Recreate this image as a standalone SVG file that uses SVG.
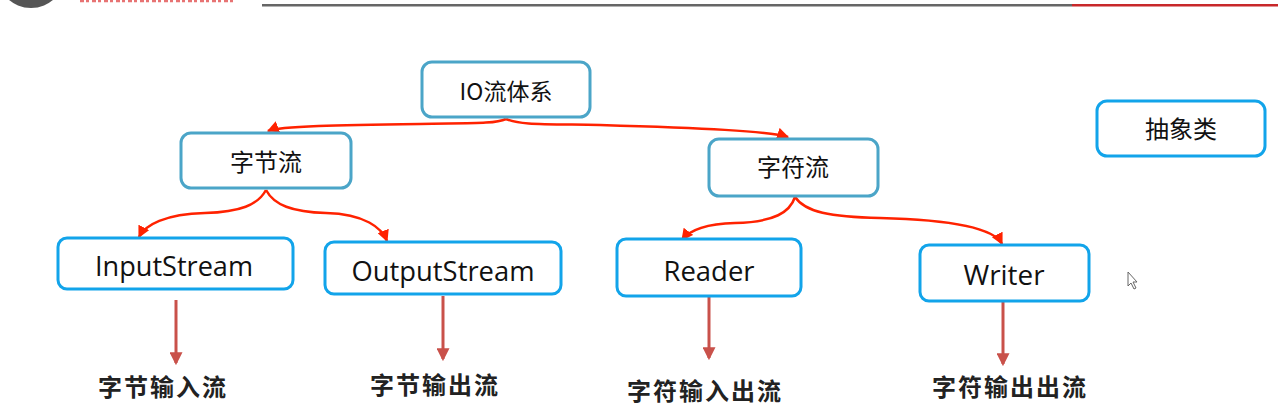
<svg xmlns="http://www.w3.org/2000/svg" width="1278" height="412" viewBox="0 0 1278 412">
<style>
.box1{fill:#fff;stroke:#4BA5C8;stroke-width:3}
.box2{fill:#fff;stroke:#12A4EA;stroke-width:3}
.cjk{font-family:"Noto Sans CJK SC","Noto Sans",sans-serif;fill:#111;text-anchor:middle}
.en{font-family:"Open Sans","Noto Sans","Liberation Sans",sans-serif;fill:#111;text-anchor:middle}
.lbl{font-family:"Noto Sans CJK SC",sans-serif;font-weight:700;fill:#222;font-size:24px;letter-spacing:2px;text-anchor:middle}
.red{fill:none;stroke:#FF2200;stroke-width:2.5;marker-end:url(#ar)}
.down{fill:none;stroke:#C9514A;stroke-width:3;marker-end:url(#ad)}
</style>
<defs>
<marker id="ar" markerUnits="userSpaceOnUse" markerWidth="12" markerHeight="12" refX="9" refY="5" orient="auto" viewBox="0 0 10 10">
<path d="M0,0 L10,5 L0,10 Z" fill="#FF2200"/>
</marker>
<marker id="ad" markerUnits="userSpaceOnUse" markerWidth="13" markerHeight="13" refX="10" refY="6" orient="auto" viewBox="0 0 12 12">
<path d="M0,0 L12,6 L0,12 Z" fill="#C9514A"/>
</marker>
</defs>
<rect width="1278" height="412" fill="#fff"/>
<g id="header">
<circle cx="31" cy="-26" r="34" fill="#555"/>
<line x1="80" y1="1" x2="236" y2="1" stroke="#E04545" stroke-width="2.5" stroke-dasharray="4 2 3 3" opacity="0.75"/>
<rect x="262" y="4" width="810" height="2.5" fill="#666"/>
<rect x="1072" y="4" width="206" height="2.5" fill="#C8282A"/>
</g>
<g id="connectors">
<path class="red" d="M506,119 C520,125 540,124 600,125 C700,128 770,131 788,137"/>
<path class="red" d="M506,119 C495,124 470,123 420,124 C340,125 280,126 268,131"/>
<path class="red" d="M266,190 C258,205 240,212 205,213 C165,214 145,225 139,237"/>
<path class="red" d="M266,190 C274,205 292,212 326,213 C365,214 382,228 387,241"/>
<path class="red" d="M795,197 C790,212 775,222 735,223 C700,224 688,232 682,240"/>
<path class="red" d="M795,197 C805,212 830,217 880,218 C960,220 995,230 1002,244"/>
<path class="down" d="M176,300 V363"/>
<path class="down" d="M443,296 V359"/>
<path class="down" d="M709,297 V358"/>
<path class="down" d="M1003,302 V364"/>
</g>
<g id="n-io"><rect class="box1" x="422" y="62" width="168" height="55" rx="10"/><text class="cjk" x="506" y="100" font-size="23">IO流体系</text></g>
<g id="n-byte"><rect class="box1" x="181" y="133" width="170" height="55" rx="10"/><text class="cjk" x="266" y="171" font-size="24">字节流</text></g>
<g id="n-char"><rect class="box1" x="709" y="139" width="169" height="57" rx="10"/><text class="cjk" x="793" y="176" font-size="24">字符流</text></g>
<g id="n-abstract"><rect class="box2" x="1097" y="101" width="168" height="55" rx="10"/><text class="cjk" x="1181" y="138" font-size="24">抽象类</text></g>
<g id="n-input"><rect class="box2" x="58" y="238" width="235" height="51" rx="9"/><text class="en" x="174" y="276" font-size="28" textLength="158" lengthAdjust="spacingAndGlyphs">InputStream</text></g>
<g id="n-output"><rect class="box2" x="325" y="242" width="236" height="52" rx="9"/><text class="en" x="443" y="281" font-size="28" textLength="183" lengthAdjust="spacingAndGlyphs">OutputStream</text></g>
<g id="n-reader"><rect class="box2" x="617" y="239" width="184" height="57" rx="9"/><text class="en" x="709" y="281" font-size="28" textLength="91" lengthAdjust="spacingAndGlyphs">Reader</text></g>
<g id="n-writer"><rect class="box2" x="920" y="245" width="169" height="56" rx="9"/><text class="en" x="1004" y="285" font-size="28" textLength="81" lengthAdjust="spacingAndGlyphs">Writer</text></g>
<g id="labels">
<text class="lbl" x="163" y="396">字节输入流</text>
<text class="lbl" x="435" y="394">字节输出流</text>
<text class="lbl" x="705" y="400">字符输入出流</text>
<text class="lbl" x="1010" y="396">字符输出出流</text>
</g>
<path d="M1128,272 L1128,286 L1131,283 L1134,289 L1136,288 L1133,282 L1137,282 Z" fill="#fff" stroke="#666" stroke-width="1"/>
</svg>
